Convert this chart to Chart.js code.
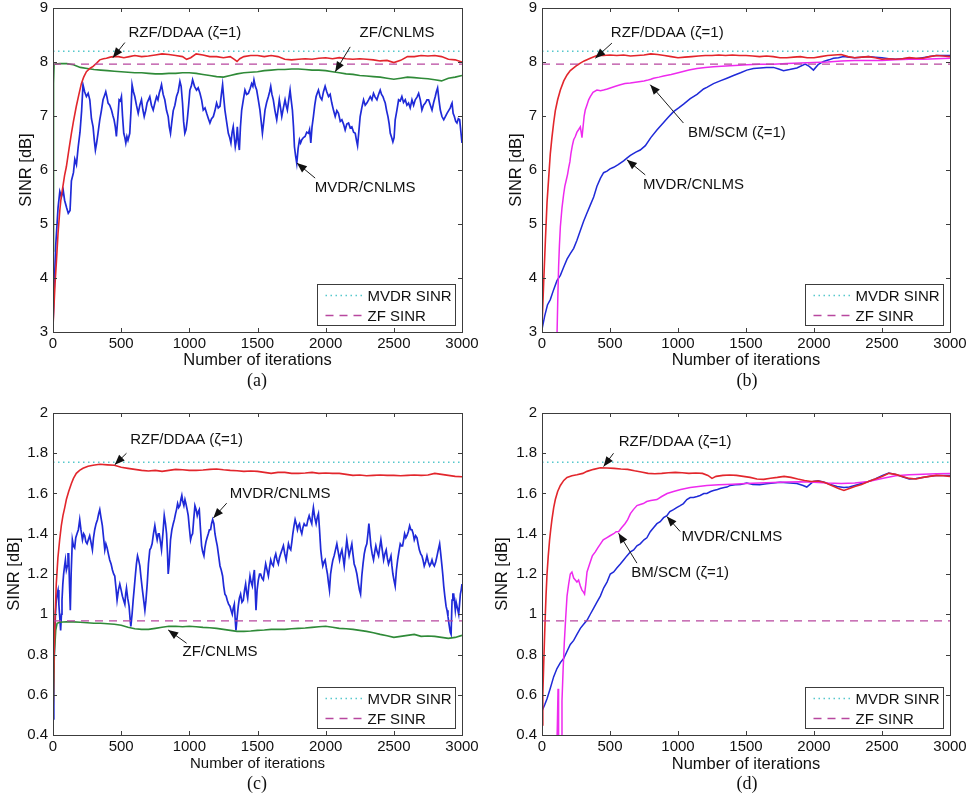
<!DOCTYPE html>
<html>
<head>
<meta charset="utf-8">
<script src="https://cdn.jsdelivr.net/npm/chart.js@4.4.0/dist/chart.umd.min.js"></script>
<style>
  html, body { margin: 0; padding: 0; background: #fff; }
  body { width: 971px; height: 798px; position: relative; overflow: hidden; }
  .panel { position: absolute; }
  .cap { position: absolute; transform: translate(-50%, -50%); font-family: "Liberation Serif", "Times New Roman", serif; font-size: 18px; color: #111; }
</style>
</head>
<body>
<div class="panel" style="left:0;top:0;width:485px;height:372px"><canvas id="chart-a"></canvas></div>
<div class="panel" style="left:485px;top:0;width:486px;height:372px"><canvas id="chart-b"></canvas></div>
<div class="panel" style="left:0;top:400px;width:485px;height:375px"><canvas id="chart-c"></canvas></div>
<div class="panel" style="left:485px;top:400px;width:486px;height:375px"><canvas id="chart-d"></canvas></div>
<div class="cap" style="left:257px;top:380px">(a)</div>
<div class="cap" style="left:747px;top:380px">(b)</div>
<div class="cap" style="left:257px;top:783px">(c)</div>
<div class="cap" style="left:747px;top:783px">(d)</div>
<script>
// ---- tick labels ----
const xTicks = [0, 500, 1000, 1500, 2000, 2500, 3000];
const yTicksTop = [3, 4, 5, 6, 7, 8, 9];
const yTicksBottom = [0.4, 0.6, 0.8, 1, 1.2, 1.4, 1.6, 1.8, 2];

// ---- reference levels ----
const mvdrSinrTop = 8.2, zfSinrTop = 7.96;
const mvdrSinrBottom = 1.755, zfSinrBottom = 0.967;

// ---- (a) [iteration, SINR dB] ----
const aRzf = [[0,3.1],[15,3.9],[25,4.3],[37,4.83],[50,5.25],[60,5.5],[73,5.7],[85,5.9],[98,6.06],[115,6.35],[135,6.68],[150,6.9],[171,7.18],[190,7.4],[208,7.6],[225,7.72],[245,7.82],[270,7.88],[294,7.92],[320,7.98],[343,8.04],[370,8.06],[392,8.07],[420,8.09],[441,8.1],[480,8.1],[520,8.08],[560,8.1],[600,8.12],[650,8.1],[700,8.11],[750,8.13],[800,8.15],[850,8.14],[900,8.12],[950,8.1],[980,8.05],[1010,8.08],[1050,8.15],[1100,8.13],[1150,8.1],[1200,8.1],[1250,8.08],[1300,8.1],[1330,8.05],[1350,8.01],[1370,8.06],[1400,8.1],[1450,8.12],[1500,8.12],[1550,8.1],[1600,8.12],[1650,8.1],[1700,8.05],[1750,8.04],[1800,8.05],[1850,8.06],[1900,8.05],[1950,8.07],[2000,8.08],[2050,8.06],[2100,8.08],[2150,8.06],[2200,8.05],[2250,8.06],[2300,8.05],[2350,8.04],[2400,8.02],[2450,8.03],[2500,7.99],[2550,8.03],[2600,8.1],[2650,8.1],[2700,8.12],[2750,8.11],[2800,8.12],[2850,8.1],[2900,8.05],[2950,8.04],[3000,8.0]];
const aZfCnlms = [[0,4.5],[4,7.6],[8,7.96],[50,7.97],[100,7.97],[150,7.95],[200,7.9],[250,7.88],[300,7.86],[350,7.85],[400,7.84],[450,7.83],[500,7.82],[550,7.81],[600,7.8],[650,7.8],[700,7.79],[750,7.78],[800,7.78],[850,7.79],[900,7.79],[950,7.8],[1000,7.8],[1050,7.79],[1100,7.77],[1150,7.75],[1200,7.73],[1250,7.72],[1300,7.75],[1350,7.78],[1400,7.8],[1450,7.81],[1500,7.82],[1550,7.84],[1600,7.85],[1650,7.86],[1700,7.86],[1750,7.87],[1800,7.87],[1850,7.86],[1900,7.85],[1950,7.85],[2000,7.84],[2050,7.82],[2100,7.8],[2150,7.78],[2200,7.77],[2250,7.75],[2300,7.74],[2350,7.73],[2400,7.72],[2450,7.7],[2500,7.68],[2550,7.7],[2600,7.72],[2650,7.71],[2700,7.7],[2750,7.69],[2800,7.67],[2850,7.65],[2900,7.7],[2950,7.72],[3000,7.75]];
const aMvdrCnlms = [[0,3.15],[10,3.9],[20,4.6],[37,5.3],[50,5.6],[62,5.5],[75,5.62],[85,5.44],[100,5.3],[112,5.2],[125,5.25],[135,5.8],[150,5.95],[160,6.2],[172,6.1],[185,6.43],[198,6.7],[210,7.1],[220,7.58],[232,7.45],[245,7.36],[258,7.42],[270,7.3],[282,6.95],[294,6.8],[303,6.55],[311,6.37],[320,6.5],[330,6.68],[343,6.93],[355,7.1],[367,7.3],[378,7.38],[387,7.45],[396,7.35],[404,7.24],[416,7.2],[429,7.11],[440,7.0],[448,6.93],[457,6.8],[465,6.62],[475,6.95],[485,7.3],[494,7.28],[502,7.36],[510,7.0],[519,6.68],[527,6.6],[534,6.5],[542,6.62],[550,6.55],[563,6.68],[572,7.1],[580,7.58],[590,7.45],[600,7.36],[612,7.2],[625,7.05],[637,7.2],[649,7.3],[659,7.12],[669,6.99],[680,7.1],[690,7.24],[700,7.3],[710,7.36],[722,7.2],[735,7.11],[748,7.25],[760,7.36],[770,7.3],[779,7.42],[788,7.5],[796,7.58],[808,7.4],[820,7.3],[833,7.1],[845,6.99],[853,6.8],[862,6.68],[872,6.9],[882,7.1],[894,7.2],[906,7.36],[918,7.45],[931,7.64],[940,7.55],[950,7.24],[958,6.9],[967,6.68],[976,6.75],[985,6.93],[995,7.2],[1004,7.48],[1014,7.55],[1024,7.67],[1038,7.55],[1053,7.48],[1065,7.52],[1078,7.42],[1090,7.3],[1102,7.11],[1115,7.15],[1127,7.05],[1140,6.95],[1151,6.87],[1163,6.95],[1176,6.99],[1188,7.1],[1200,7.24],[1212,7.15],[1225,7.18],[1235,7.4],[1244,7.58],[1252,7.35],[1261,7.11],[1273,6.9],[1286,6.68],[1296,6.6],[1305,6.5],[1314,6.7],[1322,6.8],[1330,6.6],[1337,6.43],[1345,6.55],[1352,6.8],[1360,6.5],[1367,6.37],[1375,6.8],[1384,7.11],[1396,7.3],[1408,7.48],[1420,7.4],[1433,7.42],[1445,7.5],[1457,7.6],[1466,7.55],[1474,7.67],[1484,7.55],[1494,7.48],[1506,7.3],[1518,7.11],[1527,6.9],[1536,6.68],[1546,6.9],[1555,7.11],[1567,7.25],[1580,7.36],[1589,7.45],[1597,7.55],[1606,7.4],[1616,7.3],[1628,7.1],[1641,6.93],[1650,7.1],[1660,7.3],[1669,7.15],[1678,6.99],[1690,7.15],[1702,7.3],[1710,7.2],[1719,7.11],[1729,7.3],[1739,7.48],[1747,7.3],[1756,7.11],[1764,6.8],[1771,6.43],[1780,6.25],[1788,6.12],[1798,6.4],[1808,6.56],[1816,6.5],[1825,6.56],[1837,6.6],[1849,6.62],[1861,6.7],[1874,6.68],[1882,6.75],[1891,6.5],[1900,6.8],[1910,6.99],[1920,7.2],[1930,7.36],[1938,7.42],[1947,7.48],[1960,7.35],[1972,7.3],[1984,7.45],[1996,7.55],[2008,7.45],[2021,7.36],[2033,7.4],[2045,7.24],[2058,7.1],[2070,6.99],[2082,7.1],[2094,7.05],[2107,6.9],[2119,6.93],[2131,6.85],[2143,6.74],[2155,6.85],[2168,6.87],[2180,6.78],[2192,6.8],[2205,6.7],[2217,6.68],[2226,6.55],[2234,6.45],[2243,6.7],[2253,6.99],[2265,7.15],[2278,7.3],[2290,7.2],[2302,7.24],[2315,7.3],[2327,7.36],[2339,7.3],[2351,7.42],[2363,7.35],[2376,7.3],[2388,7.4],[2400,7.48],[2410,7.4],[2420,7.36],[2428,7.3],[2437,7.24],[2447,7.1],[2457,6.99],[2466,6.85],[2474,6.68],[2484,6.6],[2493,6.52],[2502,6.6],[2510,6.93],[2522,7.1],[2535,7.3],[2547,7.28],[2559,7.36],[2571,7.25],[2584,7.3],[2596,7.2],[2608,7.24],[2620,7.15],[2633,7.3],[2645,7.2],[2657,7.3],[2670,7.35],[2682,7.42],[2694,7.3],[2706,7.11],[2718,7.2],[2731,7.24],[2743,7.3],[2755,7.3],[2768,7.2],[2780,7.11],[2792,7.25],[2804,7.36],[2812,7.45],[2821,7.52],[2831,7.3],[2841,7.11],[2853,6.99],[2866,6.93],[2878,6.99],[2890,7.05],[2902,7.1],[2914,7.15],[2920,7.2],[2927,7.24],[2935,7.05],[2944,6.99],[2954,6.9],[2963,6.87],[2973,6.95],[2983,6.93],[2992,6.7],[3000,6.5]];

// ---- (b) ----
const bRzf = [[0,3.1],[12,3.9],[25,4.7],[37,5.4],[49,5.85],[61,6.3],[73,6.6],[86,6.88],[98,7.1],[115,7.3],[135,7.48],[160,7.65],[184,7.76],[208,7.84],[233,7.89],[258,7.94],[282,7.98],[310,8.02],[355,8.07],[404,8.12],[450,8.12],[500,8.13],[550,8.12],[600,8.13],[650,8.11],[700,8.12],[750,8.13],[800,8.15],[850,8.14],[900,8.12],[950,8.1],[1000,8.08],[1050,8.09],[1100,8.1],[1150,8.11],[1200,8.12],[1250,8.12],[1300,8.13],[1350,8.12],[1400,8.13],[1450,8.12],[1500,8.12],[1550,8.11],[1600,8.1],[1650,8.11],[1700,8.1],[1750,8.08],[1800,8.08],[1850,8.09],[1900,8.1],[1950,8.08],[2000,8.08],[2050,8.1],[2100,8.12],[2150,8.13],[2200,8.14],[2250,8.1],[2300,8.08],[2350,8.09],[2400,8.1],[2450,8.08],[2500,8.05],[2550,8.06],[2600,8.05],[2650,8.06],[2700,8.08],[2750,8.07],[2800,8.07],[2850,8.1],[2900,8.12],[2950,8.11],[3000,8.1]];
const bBmScm = [[100,2.0],[110,2.9],[116,3.6],[122,4.2],[128,4.6],[135,4.95],[147,5.3],[159,5.55],[168,5.7],[179,5.82],[188,5.92],[196,6.04],[205,6.15],[213,6.31],[223,6.45],[233,6.56],[245,6.62],[257,6.7],[270,6.75],[282,6.8],[288,6.7],[294,6.6],[300,6.75],[310,7.0],[318,7.11],[330,7.2],[343,7.3],[355,7.36],[375,7.44],[404,7.48],[430,7.47],[453,7.48],[480,7.5],[502,7.52],[540,7.55],[576,7.58],[610,7.6],[649,7.61],[700,7.63],[750,7.65],[771,7.66],[800,7.68],[820,7.7],[860,7.72],[894,7.74],[950,7.77],[1016,7.81],[1080,7.85],[1139,7.88],[1200,7.9],[1261,7.91],[1320,7.92],[1384,7.93],[1450,7.94],[1506,7.95],[1600,7.96],[1700,7.96],[1800,7.97],[1900,7.98],[2000,7.99],[2100,8.0],[2200,8.02],[2300,8.03],[2400,8.03],[2500,8.03],[2600,8.04],[2700,8.05],[2800,8.05],[2900,8.06],[3000,8.07]];
const bMvdrCnlms = [[0,3.05],[20,3.3],[40,3.5],[61,3.6],[85,3.78],[110,3.95],[135,4.05],[159,4.2],[184,4.35],[208,4.45],[233,4.55],[257,4.7],[282,4.88],[306,5.05],[330,5.2],[355,5.35],[380,5.5],[404,5.7],[430,5.85],[453,5.95],[478,5.98],[500,6.02],[527,6.05],[560,6.1],[600,6.17],[624,6.22],[650,6.27],[690,6.33],[722,6.37],[760,6.45],[800,6.6],[845,6.74],[894,6.88],[930,6.98],[967,7.08],[1005,7.15],[1041,7.22],[1090,7.32],[1140,7.4],[1188,7.5],[1212,7.53],[1261,7.6],[1310,7.65],[1360,7.7],[1408,7.75],[1460,7.8],[1506,7.85],[1555,7.88],[1604,7.89],[1650,7.9],[1702,7.9],[1740,7.87],[1776,7.84],[1820,7.86],[1874,7.89],[1935,7.96],[1965,7.92],[1996,7.85],[2030,7.95],[2070,8.01],[2110,8.04],[2143,8.07],[2180,8.08],[2217,8.1],[2260,8.09],[2300,8.08],[2350,8.09],[2400,8.1],[2450,8.09],[2500,8.08],[2550,8.06],[2600,8.05],[2650,8.06],[2700,8.07],[2750,8.06],[2800,8.08],[2850,8.1],[2900,8.12],[2950,8.12],[3000,8.12]];

// ---- (c) ----
const cRzf = [[0,0.48],[8,0.8],[16,1.0],[24,1.15],[36,1.28],[49,1.37],[61,1.44],[73,1.49],[86,1.53],[98,1.57],[115,1.61],[135,1.65],[150,1.675],[171,1.7],[195,1.715],[220,1.725],[257,1.735],[294,1.74],[343,1.745],[400,1.742],[450,1.74],[500,1.73],[550,1.725],[600,1.72],[650,1.715],[700,1.712],[750,1.715],[800,1.71],[850,1.715],[900,1.72],[950,1.718],[1000,1.715],[1050,1.715],[1100,1.717],[1150,1.72],[1200,1.722],[1250,1.718],[1300,1.715],[1350,1.713],[1400,1.71],[1450,1.712],[1500,1.71],[1550,1.705],[1600,1.7],[1650,1.705],[1700,1.705],[1750,1.7],[1800,1.7],[1850,1.702],[1900,1.705],[1950,1.7],[2000,1.702],[2050,1.7],[2100,1.7],[2150,1.695],[2200,1.69],[2250,1.692],[2300,1.688],[2350,1.69],[2400,1.692],[2450,1.69],[2500,1.69],[2550,1.688],[2600,1.69],[2650,1.692],[2700,1.69],[2750,1.692],[2800,1.7],[2850,1.695],[2900,1.69],[2950,1.685],[3000,1.683]];
const cZfCnlms = [[0,0.5],[10,0.8],[20,0.92],[30,0.955],[50,0.96],[100,0.963],[150,0.962],[200,0.96],[250,0.958],[300,0.955],[350,0.955],[400,0.953],[450,0.95],[500,0.945],[550,0.935],[600,0.928],[650,0.925],[700,0.925],[750,0.93],[800,0.935],[850,0.94],[900,0.94],[950,0.938],[1000,0.94],[1050,0.938],[1100,0.935],[1150,0.933],[1200,0.93],[1250,0.925],[1300,0.92],[1350,0.915],[1400,0.915],[1450,0.917],[1500,0.92],[1550,0.922],[1600,0.925],[1650,0.925],[1700,0.925],[1750,0.928],[1800,0.93],[1850,0.932],[1900,0.935],[1950,0.938],[2000,0.94],[2050,0.935],[2100,0.93],[2150,0.928],[2200,0.925],[2250,0.92],[2300,0.915],[2350,0.908],[2400,0.9],[2450,0.893],[2500,0.885],[2550,0.89],[2600,0.895],[2650,0.9],[2700,0.89],[2750,0.892],[2800,0.89],[2850,0.885],[2900,0.88],[2950,0.885],[3000,0.895]];
const cMvdrCnlms = [[0,0.48],[6,0.7],[12,0.9],[18,1.0],[24,1.07],[30,1.1],[37,1.12],[43,1.05],[49,0.99],[56,0.92],[62,1.0],[66,1.07],[72,1.15],[78,1.2],[85,1.24],[91,1.27],[98,1.22],[105,1.24],[110,1.3],[115,1.3],[121,1.15],[127,1.02],[133,1.2],[142,1.37],[150,1.34],[159,1.33],[167,1.38],[176,1.4],[186,1.42],[196,1.47],[205,1.42],[216,1.37],[225,1.4],[233,1.39],[241,1.36],[250,1.35],[259,1.37],[269,1.39],[278,1.36],[289,1.32],[297,1.38],[306,1.42],[316,1.45],[326,1.47],[335,1.5],[343,1.52],[352,1.48],[362,1.44],[371,1.38],[380,1.32],[388,1.35],[397,1.33],[406,1.3],[416,1.27],[426,1.25],[436,1.22],[445,1.2],[453,1.19],[462,1.13],[470,1.07],[480,1.12],[490,1.15],[500,1.12],[509,1.09],[518,1.07],[527,1.05],[533,1.1],[539,1.13],[548,1.08],[558,1.04],[565,0.98],[571,0.94],[580,1.0],[588,1.07],[596,1.13],[605,1.2],[612,1.25],[620,1.29],[628,1.27],[637,1.24],[646,1.18],[656,1.12],[665,1.07],[674,1.02],[682,1.07],[691,1.15],[700,1.25],[710,1.32],[718,1.33],[727,1.35],[737,1.4],[747,1.44],[756,1.4],[764,1.37],[772,1.4],[779,1.4],[788,1.36],[796,1.32],[806,1.4],[816,1.49],[825,1.45],[833,1.4],[840,1.3],[845,1.2],[852,1.25],[862,1.37],[872,1.42],[882,1.45],[890,1.47],[899,1.5],[906,1.52],[914,1.55],[922,1.53],[931,1.54],[938,1.57],[945,1.59],[952,1.56],[960,1.54],[968,1.57],[975,1.55],[984,1.52],[992,1.49],[1000,1.43],[1009,1.37],[1016,1.39],[1024,1.4],[1032,1.47],[1041,1.54],[1050,1.52],[1058,1.49],[1066,1.51],[1073,1.52],[1082,1.42],[1090,1.34],[1098,1.31],[1107,1.29],[1114,1.33],[1122,1.36],[1130,1.38],[1139,1.4],[1147,1.42],[1156,1.42],[1163,1.45],[1171,1.47],[1180,1.45],[1188,1.4],[1196,1.37],[1205,1.34],[1215,1.29],[1225,1.24],[1234,1.22],[1244,1.19],[1252,1.14],[1261,1.1],[1270,1.09],[1278,1.07],[1288,1.05],[1298,1.04],[1306,1.02],[1315,1.0],[1322,1.03],[1330,1.05],[1336,0.98],[1342,0.92],[1350,0.98],[1359,1.04],[1367,1.08],[1376,1.1],[1386,1.06],[1396,1.07],[1405,1.12],[1413,1.15],[1420,1.11],[1428,1.08],[1436,1.14],[1445,1.19],[1453,1.16],[1462,1.14],[1470,1.19],[1477,1.22],[1483,1.12],[1489,1.02],[1497,1.12],[1506,1.17],[1515,1.2],[1523,1.2],[1533,1.18],[1543,1.17],[1551,1.21],[1560,1.25],[1570,1.22],[1580,1.19],[1588,1.23],[1597,1.27],[1606,1.25],[1616,1.24],[1625,1.28],[1634,1.3],[1643,1.27],[1653,1.25],[1661,1.28],[1670,1.3],[1680,1.32],[1690,1.34],[1700,1.3],[1710,1.27],[1718,1.31],[1727,1.35],[1735,1.33],[1744,1.32],[1752,1.36],[1759,1.4],[1768,1.44],[1776,1.47],[1784,1.45],[1793,1.42],[1800,1.44],[1808,1.45],[1816,1.42],[1825,1.4],[1833,1.43],[1842,1.45],[1851,1.44],[1861,1.44],[1870,1.47],[1879,1.49],[1888,1.47],[1898,1.45],[1904,1.5],[1910,1.53],[1920,1.48],[1930,1.45],[1938,1.48],[1947,1.5],[1955,1.42],[1964,1.32],[1972,1.27],[1979,1.24],[1988,1.26],[1996,1.27],[2005,1.23],[2013,1.2],[2020,1.16],[2028,1.12],[2036,1.2],[2045,1.24],[2053,1.27],[2062,1.29],[2072,1.32],[2082,1.35],[2092,1.31],[2102,1.27],[2110,1.3],[2119,1.32],[2128,1.28],[2136,1.24],[2146,1.31],[2155,1.37],[2163,1.33],[2172,1.29],[2182,1.32],[2192,1.35],[2200,1.3],[2209,1.25],[2219,1.23],[2229,1.2],[2238,1.16],[2248,1.12],[2256,1.1],[2265,1.19],[2274,1.25],[2283,1.3],[2292,1.33],[2302,1.35],[2310,1.4],[2317,1.45],[2324,1.4],[2332,1.34],[2341,1.3],[2351,1.27],[2360,1.31],[2368,1.34],[2378,1.31],[2388,1.29],[2396,1.33],[2405,1.37],[2415,1.32],[2425,1.27],[2434,1.3],[2444,1.32],[2452,1.28],[2461,1.25],[2470,1.27],[2479,1.29],[2486,1.24],[2493,1.2],[2501,1.17],[2510,1.14],[2519,1.22],[2528,1.27],[2537,1.31],[2547,1.35],[2556,1.34],[2564,1.34],[2572,1.37],[2579,1.4],[2588,1.38],[2596,1.39],[2606,1.41],[2616,1.44],[2625,1.42],[2633,1.42],[2642,1.4],[2650,1.37],[2660,1.39],[2670,1.38],[2678,1.35],[2687,1.32],[2697,1.3],[2706,1.29],[2714,1.27],[2723,1.24],[2733,1.26],[2743,1.29],[2753,1.26],[2763,1.24],[2771,1.25],[2780,1.27],[2788,1.25],[2797,1.24],[2807,1.26],[2817,1.29],[2826,1.32],[2836,1.35],[2844,1.3],[2853,1.24],[2860,1.19],[2866,1.14],[2874,1.09],[2883,1.04],[2890,1.02],[2897,0.99],[2905,0.95],[2914,0.91],[2920,0.9],[2927,1.07],[2933,1.1],[2939,1.1],[2945,1.06],[2951,1.02],[2957,1.06],[2963,1.06],[2970,1.02],[2976,1.0],[2982,1.05],[2988,1.1],[2994,1.12],[3000,1.15]];

// ---- (d) ----
const dRzf = [[0,0.45],[6,0.6],[12,0.74],[18,0.87],[24,0.99],[30,1.1],[37,1.2],[46,1.29],[56,1.37],[64,1.42],[73,1.47],[86,1.53],[98,1.57],[115,1.61],[135,1.64],[160,1.665],[184,1.68],[220,1.688],[257,1.693],[300,1.7],[331,1.71],[380,1.72],[429,1.728],[478,1.727],[530,1.725],[580,1.722],[630,1.72],[680,1.713],[730,1.707],[780,1.7],[830,1.698],[880,1.7],[930,1.703],[980,1.705],[1030,1.703],[1080,1.7],[1130,1.702],[1180,1.7],[1220,1.69],[1250,1.675],[1280,1.685],[1330,1.69],[1380,1.692],[1430,1.69],[1480,1.685],[1530,1.68],[1580,1.672],[1630,1.67],[1680,1.676],[1730,1.68],[1780,1.685],[1830,1.68],[1880,1.672],[1930,1.665],[1980,1.66],[2030,1.662],[2080,1.655],[2130,1.64],[2180,1.625],[2220,1.615],[2260,1.625],[2300,1.635],[2350,1.645],[2400,1.66],[2450,1.672],[2500,1.685],[2550,1.7],[2600,1.695],[2650,1.685],[2700,1.675],[2750,1.672],[2800,1.68],[2850,1.685],[2900,1.69],[2950,1.688],[3000,1.685]];
const dBmScm = [[108,0.3],[113,0.45],[118,0.63],[122,0.35],[130,0.3],[140,0.32],[147,0.57],[155,0.72],[164,0.86],[174,0.98],[184,1.09],[196,1.15],[208,1.2],[220,1.21],[233,1.18],[245,1.17],[257,1.16],[269,1.17],[282,1.14],[294,1.12],[305,1.11],[313,1.1],[322,1.15],[331,1.21],[350,1.25],[370,1.29],[392,1.31],[410,1.33],[430,1.35],[450,1.37],[475,1.38],[500,1.39],[527,1.4],[545,1.41],[563,1.41],[585,1.43],[610,1.45],[630,1.47],[650,1.5],[672,1.52],[698,1.54],[722,1.545],[745,1.55],[770,1.56],[800,1.565],[845,1.57],[880,1.585],[920,1.6],[967,1.61],[1020,1.62],[1090,1.63],[1150,1.635],[1212,1.64],[1300,1.643],[1400,1.646],[1500,1.65],[1600,1.652],[1700,1.655],[1800,1.657],[1900,1.658],[2000,1.656],[2100,1.652],[2200,1.65],[2300,1.652],[2400,1.66],[2500,1.675],[2600,1.688],[2700,1.693],[2800,1.696],[2900,1.698],[3000,1.7]];
const dMvdrCnlms = [[0,0.52],[20,0.55],[37,0.58],[60,0.63],[86,0.69],[110,0.73],[135,0.76],[159,0.78],[180,0.81],[208,0.85],[233,0.87],[257,0.9],[282,0.93],[306,0.95],[331,0.97],[355,1.0],[380,1.03],[404,1.06],[429,1.09],[453,1.13],[478,1.16],[502,1.2],[527,1.21],[550,1.23],[576,1.25],[600,1.27],[624,1.29],[650,1.31],[674,1.32],[698,1.34],[722,1.35],[750,1.37],[771,1.38],[796,1.41],[820,1.43],[845,1.45],[869,1.46],[894,1.48],[918,1.49],[940,1.51],[967,1.52],[990,1.53],[1016,1.54],[1040,1.55],[1065,1.57],[1090,1.58],[1114,1.58],[1140,1.585],[1163,1.59],[1190,1.6],[1212,1.6],[1240,1.61],[1261,1.615],[1290,1.62],[1310,1.625],[1340,1.63],[1360,1.632],[1384,1.64],[1420,1.643],[1460,1.645],[1506,1.652],[1550,1.645],[1600,1.643],[1650,1.648],[1700,1.652],[1751,1.656],[1800,1.654],[1874,1.65],[1920,1.64],[1947,1.632],[1970,1.645],[1996,1.66],[2030,1.663],[2070,1.657],[2120,1.645],[2170,1.635],[2220,1.63],[2260,1.632],[2300,1.64],[2350,1.65],[2400,1.66],[2450,1.672],[2500,1.688],[2550,1.702],[2600,1.695],[2650,1.683],[2700,1.672],[2750,1.674],[2800,1.68],[2850,1.686],[2900,1.69],[2950,1.69],[3000,1.69]];

const FONT = '"Liberation Sans", Arial, Helvetica, sans-serif';
const TXT = '#111';
const C = { red: '#e2262c', green: '#2f8a38', blue: '#1f2ad8', mag: '#ee2aee', cyan: '#55c8cc', zf: '#b8479f' };

const pts = arr => arr.map(p => ({ x: p[0], y: p[1] }));
const flat = v => [{ x: 0, y: v }, { x: 3000, y: v }];

function line(label, data, color, width, extra) {
  return Object.assign({ label, data: pts(data), borderColor: color, borderWidth: width, pointRadius: 0, tension: 0, fill: false }, extra || {});
}
function refLines(mvdr, zf) {
  return [
    { label: 'MVDR SINR', data: flat(mvdr), borderColor: C.cyan, borderWidth: 1.6, borderDash: [1.5, 3.5], pointRadius: 0, legend: true, order: 0 },
    { label: 'ZF SINR', data: flat(zf), borderColor: C.zf, borderWidth: 1.4, borderDash: [8, 6], pointRadius: 0, legend: true, order: 0 },
  ];
}

// box, inward ticks, in-plot legend and arrow notes (MATLAB look)
const matlabLook = {
  id: 'matlabLook',
  afterDatasetsDraw(chart, args, opts) {
    const { ctx, chartArea: a, scales: { x, y } } = chart;
    ctx.save();
    ctx.strokeStyle = '#3c3c3c';
    ctx.lineWidth = 1;
    ctx.setLineDash([]);
    ctx.beginPath();
    x.ticks.forEach(t => {
      const px = Math.round(x.getPixelForValue(t.value)) + 0.5;
      ctx.moveTo(px, a.bottom); ctx.lineTo(px, a.bottom - 4);
      ctx.moveTo(px, a.top); ctx.lineTo(px, a.top + 4);
    });
    y.ticks.forEach(t => {
      const py = Math.round(y.getPixelForValue(t.value)) + 0.5;
      ctx.moveTo(a.left, py); ctx.lineTo(a.left + 4, py);
      ctx.moveTo(a.right, py); ctx.lineTo(a.right - 4, py);
    });
    ctx.stroke();
    ctx.strokeRect(Math.round(a.left) + 0.5, Math.round(a.top) + 0.5, Math.round(a.width), Math.round(a.height));

    // legend box, bottom right inside the axes
    const lw = 138, lh = 41;
    const lx = Math.round(a.right - 7 - lw) + 0.5, ly = Math.round(a.bottom - 7 - lh) + 0.5;
    ctx.fillStyle = '#fff';
    ctx.fillRect(lx, ly, lw, lh);
    ctx.strokeStyle = '#3c3c3c';
    ctx.strokeRect(lx, ly, lw, lh);
    ctx.font = '15px ' + FONT;
    ctx.textBaseline = 'middle';
    ctx.textAlign = 'left';
    chart.data.datasets.filter(d => d.legend).forEach((d, i) => {
      const yy = ly + 11 + i * 20;
      ctx.strokeStyle = d.borderColor;
      ctx.lineWidth = d.borderWidth;
      ctx.setLineDash(d.borderDash || []);
      ctx.beginPath(); ctx.moveTo(lx + 8, yy); ctx.lineTo(lx + 46, yy); ctx.stroke();
      ctx.setLineDash([]);
      ctx.fillStyle = TXT;
      ctx.fillText(d.label, lx + 50, yy + 1);
    });

    // annotations with arrows
    (opts.notes || []).forEach(n => {
      const tx = x.getPixelForValue(n.at[0]), ty = y.getPixelForValue(n.at[1]);
      const fx = x.getPixelForValue(n.from[0]), fy = y.getPixelForValue(n.from[1]);
      const px = x.getPixelForValue(n.to[0]), py = y.getPixelForValue(n.to[1]);
      ctx.fillStyle = TXT;
      ctx.textAlign = 'center';
      ctx.fillText(n.text, tx, ty);
      ctx.strokeStyle = '#1a1a1a';
      ctx.lineWidth = 1;
      ctx.beginPath(); ctx.moveTo(fx, fy); ctx.lineTo(px, py); ctx.stroke();
      const ang = Math.atan2(py - fy, px - fx), L = 10, W = 4;
      ctx.fillStyle = '#111';
      ctx.beginPath();
      ctx.moveTo(px, py);
      ctx.lineTo(px - L * Math.cos(ang) + W * Math.sin(ang), py - L * Math.sin(ang) - W * Math.cos(ang));
      ctx.lineTo(px - L * Math.cos(ang) - W * Math.sin(ang), py - L * Math.sin(ang) + W * Math.cos(ang));
      ctx.closePath();
      ctx.fill();
    });
    ctx.restore();
  }
};

function makeChart(id, cfg) {
  return new Chart(document.getElementById(id), {
    type: 'line',
    data: { datasets: cfg.datasets },
    plugins: [matlabLook],
    options: {
      responsive: true, maintainAspectRatio: false, animation: false,
      layout: { padding: cfg.pad },
      plugins: { legend: { display: false }, tooltip: { enabled: false }, matlabLook: { notes: cfg.notes } },
      scales: {
        x: {
          type: 'linear', min: 0, max: 3000,
          grid: { display: false, drawTicks: false }, border: { display: false },
          afterBuildTicks: s => { s.ticks = xTicks.map(v => ({ value: v })); },
          afterFit: s => { s.height = cfg.xHeight; s.paddingLeft = 0; s.paddingRight = 0; },
          ticks: { font: { family: FONT, size: 15 }, color: TXT, padding: 3, maxRotation: 0, autoSkip: false, callback: v => String(v) },
          title: { display: true, text: 'Number of iterations', font: { family: FONT, size: cfg.xTitleSize }, color: TXT, padding: 0 }
        },
        y: {
          type: 'linear', min: cfg.yTicks[0], max: cfg.yTicks[cfg.yTicks.length - 1],
          grid: { display: false, drawTicks: false }, border: { display: false },
          afterBuildTicks: s => { s.ticks = cfg.yTicks.map(v => ({ value: v })); },
          afterFit: s => { s.width = cfg.yWidth; s.paddingTop = 0; s.paddingBottom = 0; },
          ticks: { font: { family: FONT, size: 15 }, color: TXT, padding: 5, autoSkip: false, callback: v => String(Math.round(v * 10) / 10) },
          title: { display: true, text: 'SINR [dB]', font: { family: FONT, size: 16.5 }, color: TXT, padding: 0 }
        }
      }
    }
  });
}

makeChart('chart-a', {
  pad: { left: 17, top: 8, right: 23, bottom: 2 }, yWidth: 36, xHeight: 38, xTitleSize: 16.5, yTicks: yTicksTop,
  datasets: [
    ...refLines(mvdrSinrTop, zfSinrTop),
    line('RZF/DDAA', aRzf, C.red, 1.6, { order: 1 }),
    line('ZF/CNLMS', aZfCnlms, C.green, 1.6, { order: 2 }),
    line('MVDR/CNLMS', aMvdrCnlms, C.blue, 1.7, { order: 3 }),
  ],
  notes: [
    { text: 'RZF/DDAA (ζ=1)', at: [967, 8.54], from: [527, 8.36], to: [439, 8.08] },
    { text: 'ZF/CNLMS', at: [2524, 8.54], from: [2180, 8.28], to: [2070, 7.82] },
    { text: 'MVDR/CNLMS', at: [2290, 5.67], from: [1923, 5.85], to: [1789, 6.13] },
  ]
});

makeChart('chart-b', {
  pad: { left: 22, top: 8, right: 21, bottom: 2 }, yWidth: 35, xHeight: 38, xTitleSize: 16.5, yTicks: yTicksTop,
  datasets: [
    ...refLines(mvdrSinrTop, zfSinrTop),
    line('RZF/DDAA', bRzf, C.red, 1.6, { order: 1 }),
    line('BM/SCM', bBmScm, C.mag, 1.5, { order: 2 }),
    line('MVDR/CNLMS', bMvdrCnlms, C.blue, 1.5, { order: 3 }),
  ],
  notes: [
    { text: 'RZF/DDAA (ζ=1)', at: [921, 8.54], from: [514, 8.35], to: [392, 8.07] },
    { text: 'BM/SCM (ζ=1)', at: [1433, 6.68], from: [1040, 6.87], to: [796, 7.58] },
    { text: 'MVDR/CNLMS', at: [1114, 5.72], from: [759, 5.91], to: [624, 6.19] },
  ]
});

makeChart('chart-c', {
  pad: { left: 5, top: 13, right: 23, bottom: 2 }, yWidth: 48, xHeight: 38, xTitleSize: 15, yTicks: yTicksBottom,
  datasets: [
    ...refLines(mvdrSinrBottom, zfSinrBottom),
    line('RZF/DDAA', cRzf, C.red, 1.6, { order: 1 }),
    line('ZF/CNLMS', cZfCnlms, C.green, 1.6, { order: 2 }),
    line('MVDR/CNLMS', cMvdrCnlms, C.blue, 1.7, { order: 3 }),
  ],
  notes: [
    { text: 'RZF/DDAA (ζ=1)', at: [980, 1.867], from: [539, 1.8], to: [453, 1.743] },
    { text: 'MVDR/CNLMS', at: [1666, 1.6], from: [1274, 1.552], to: [1176, 1.478] },
    { text: 'ZF/CNLMS', at: [1225, 0.814], from: [980, 0.856], to: [845, 0.922] },
  ]
});

makeChart('chart-d', {
  pad: { left: 8, top: 13, right: 21, bottom: 1 }, yWidth: 49, xHeight: 39, xTitleSize: 16.5, yTicks: yTicksBottom,
  datasets: [
    ...refLines(mvdrSinrBottom, zfSinrBottom),
    line('RZF/DDAA', dRzf, C.red, 1.6, { order: 1 }),
    line('BM/SCM', dBmScm, C.mag, 1.5, { order: 2 }),
    line('MVDR/CNLMS', dMvdrCnlms, C.blue, 1.5, { order: 3 }),
  ],
  notes: [
    { text: 'RZF/DDAA (ζ=1)', at: [979, 1.859], from: [526, 1.8], to: [453, 1.734] },
    { text: 'MVDR/CNLMS', at: [1396, 1.386], from: [1016, 1.411], to: [918, 1.486] },
    { text: 'BM/SCM (ζ=1)', at: [1016, 1.204], from: [698, 1.254], to: [563, 1.403] },
  ]
});
</script>
</body>
</html>
